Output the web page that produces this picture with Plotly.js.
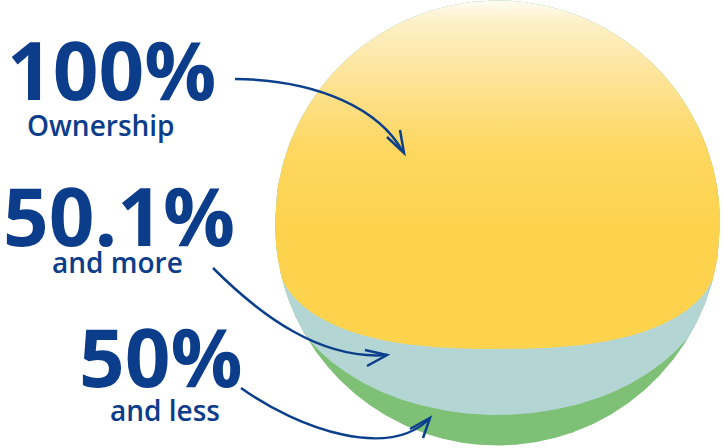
<!DOCTYPE html>
<html>
<head>
<meta charset="utf-8">
<script src="https://cdn.plot.ly/plotly-3.0.1.min.js"></script>
<style>html,body{margin:0;padding:0;background:#fff;}#chart{width:724px;height:448px;}</style>
</head>
<body>
<div id="chart"></div>
<script>
// Categories (top band to bottom band)
const categories = ['100% Ownership', '50.1% and more', '50% and less'];
const bigLabels = ['100%', '50.1%', '50%'];
const subLabels = ['Ownership', 'and more', 'and less'];

// geometry (pixel-like data units)
const CX = 497.5, CY = 223, R = 222.5;
const N = 400;
function circTop(dx){ return CY - Math.sqrt(Math.max(0, R*R - dx*dx)); }
function circBot(dx){ return CY + Math.sqrt(Math.max(0, R*R - dx*dx)); }
// band lower boundaries
function blueBot(dx){ const a = 219, c = 262, b = 153; const t = Math.min(1, Math.abs(dx)/a); return c + b*Math.sqrt(1 - t*t); }
function yellowBot(dx){ const a = R, c = 240, b = 109, n = 2.5; const t = Math.min(1, Math.abs(dx)/a); return c + b*Math.pow(1 - Math.pow(t, n), 1/n); }

function region(lowerFn){
  const xs = [], ys = [];
  for (let i = 0; i <= N; i++){ const dx = -R + 2*R*i/N; xs.push(CX+dx); ys.push(circTop(dx)); }
  for (let i = N; i >= 0; i--){ const dx = -R + 2*R*i/N; xs.push(CX+dx); ys.push(lowerFn ? Math.min(circBot(dx), lowerFn(dx)) : circBot(dx)); }
  return {xs, ys};
}

const green = region(null), blue = region(blueBot), yellow = region(yellowBot);

const traces = [
  {x: green.xs, y: green.ys, type: 'scatter', mode: 'lines', fill: 'toself', fillcolor: '#7dc076', line: {width: 0}, name: categories[2], hoverinfo: 'name'},
  {x: blue.xs, y: blue.ys, type: 'scatter', mode: 'lines', fill: 'toself', fillcolor: '#b3d5d3', line: {width: 0}, name: categories[1], hoverinfo: 'name'},
  {x: yellow.xs, y: yellow.ys, type: 'scatter', mode: 'lines', fill: 'toself', fillcolor: '#fdd34d', line: {width: 0}, name: categories[0], hoverinfo: 'name',
   fillgradient: {type: 'vertical', start: 0, stop: 230,
     colorscale: [[0, '#fffcf4'], [0.1, '#fdf0c6'], [0.35, '#fde395'], [0.65, '#fdd760'], [1, '#fdd34d']]}}
];

const blueText = '#0b3d8b';
const F = 'Open Sans, Noto Sans, sans-serif';
const bigPos = [[111, 68], [119, 214], [161, 355]];
const subPos = [[101, 125], [117, 262], [165, 410]];
const annotations = [];
bigLabels.forEach((t, i) => annotations.push({x: bigPos[i][0], y: bigPos[i][1], xref: 'x', yref: 'y', text: t, showarrow: false,
  xanchor: 'center', yanchor: 'middle', font: {family: F, size: 80, color: blueText, weight: 700}}));
subLabels.forEach((t, i) => annotations.push({x: subPos[i][0], y: subPos[i][1], xref: 'x', yref: 'y', text: t, showarrow: false,
  xanchor: 'center', yanchor: 'middle', font: {family: F, size: 28, color: blueText, weight: 600}}));

const arrowLine = {color: '#0b3f8c', width: 2.5};
const shapes = [
  {type: 'path', path: 'M235,79 C320,80 380,110 403,152', line: arrowLine},
  {type: 'path', path: 'M387,137 L404,153 L400,130', line: arrowLine},
  {type: 'path', path: 'M213,268 C260,315 320,360 387,355', line: arrowLine},
  {type: 'path', path: 'M365,350 L387,355 L367,366', line: arrowLine},
  {type: 'path', path: 'M241,388 C300,430 390,460 430,418', line: arrowLine},
  {type: 'path', path: 'M410,429 L430,418 L423,438', line: arrowLine}
];

const layout = {
  width: 724, height: 448, margin: {l: 0, r: 0, t: 0, b: 0},
  paper_bgcolor: '#fff', plot_bgcolor: '#fff', showlegend: false,
  xaxis: {range: [0, 724], visible: false, fixedrange: true},
  yaxis: {range: [448, 0], visible: false, fixedrange: true},
  annotations, shapes
};
Plotly.newPlot('chart', traces, layout, {displayModeBar: false, staticPlot: true});
</script>
</body>
</html>
